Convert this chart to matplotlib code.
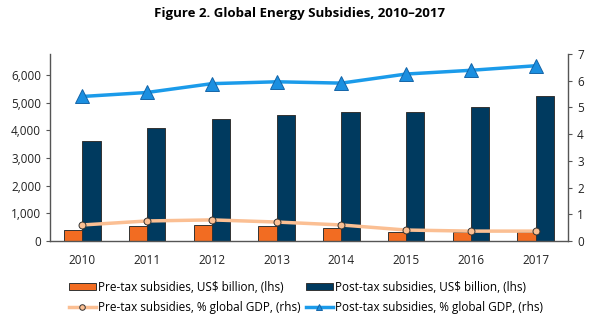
import matplotlib
matplotlib.use("Agg")
import matplotlib.pyplot as plt
from matplotlib.ticker import FuncFormatter
from matplotlib.lines import Line2D
import numpy as np

plt.rcParams['font.family'] = ['Open Sans', 'DejaVu Sans']

# data
years = ["2010", "2011", "2012", "2013", "2014", "2015", "2016", "2017"]
pre_tax_usd = [400, 550, 590, 550, 480, 336, 310, 330]
post_tax_usd = [3625, 4095, 4410, 4555, 4675, 4675, 4855, 5240]
pre_tax_gdp = [0.60, 0.75, 0.79, 0.71, 0.60, 0.41, 0.37, 0.37]
post_tax_gdp = [5.41, 5.56, 5.89, 5.96, 5.91, 6.25, 6.39, 6.56]

x = np.arange(len(years))
w = 0.28

fig = plt.figure(figsize=(5.99, 3.22), dpi=100)
ax = fig.add_axes([50 / 599, 1 - 241 / 322, 518 / 599, 187 / 322])
ax2 = ax.twinx()

b1 = ax.bar(x - w / 2, pre_tax_usd, w, color="#F26C22", edgecolor="#333333", linewidth=0.7)
b2 = ax.bar(x + w / 2, post_tax_usd, w, color="#003A5F", edgecolor="#333333", linewidth=0.7)

ax2.plot(x, pre_tax_gdp, color="#FBBF93", linewidth=2.5, marker="o", markersize=5,
         markerfacecolor="#FBBF93", markeredgecolor="#333333", markeredgewidth=0.7)
ax2.plot(x, post_tax_gdp, color="#1B9BEA", linewidth=2.5, marker="^", markersize=10,
         markerfacecolor="#1B8FE0", markeredgecolor="#1565A8", markeredgewidth=0.7)

ax.set_xlim(-0.5, len(years) - 0.5)
ax.set_ylim(0, 6760)
ax.set_yticks(range(0, 7000, 1000))
ax.yaxis.set_major_formatter(FuncFormatter(lambda v, p: f"{int(v):,}"))
ax2.set_ylim(0, 7)
ax2.set_yticks(range(0, 8))

ax.set_xticks(x)
ax.set_xticklabels(years)

for a in (ax, ax2):
    a.spines["top"].set_visible(False)
    for s in a.spines.values():
        s.set_color("#555555")
        s.set_linewidth(1.0)
    a.tick_params(labelsize=8.5, colors="#222222", length=3, color="#555555")
ax.spines["right"].set_visible(False)
ax2.spines["left"].set_visible(False)
ax2.spines["bottom"].set_visible(False)
ax.tick_params(axis="x", length=0, pad=9)

fig.text(0.5, 1 - 14 / 322, "Figure 2. Global Energy Subsidies, 2010\u20132017",
         ha="center", va="center", fontsize=9.5, fontweight="bold")

# legend handles (smaller markers than on the chart)
lh1 = Line2D([], [], color="#FBBF93", linewidth=2.5, marker="o", markersize=4,
             markerfacecolor="#FBBF93", markeredgecolor="#333333", markeredgewidth=0.7)
lh2 = Line2D([], [], color="#1B9BEA", linewidth=2.5, marker="^", markersize=5,
             markerfacecolor="#1B8FE0", markeredgecolor="#1565A8", markeredgewidth=0.7)
handles = [b1, lh1, b2, lh2]
labels = ["Pre-tax subsidies, US$ billion, (lhs)",
          "Pre-tax subsidies, % global GDP, (rhs)",
          "Post-tax subsidies, US$ billion, (lhs)",
          "Post-tax subsidies, % global GDP, (rhs)"]
fig.legend(handles, labels, ncol=2, loc="upper left", bbox_to_anchor=(64 / 599, 1 - 276 / 322),
           frameon=False, fontsize=8.5, handlelength=2.3, handleheight=0.6, handletextpad=0.2,
           columnspacing=0.4, labelspacing=0.6, borderaxespad=0)

fig.savefig("out.png", dpi=100)
